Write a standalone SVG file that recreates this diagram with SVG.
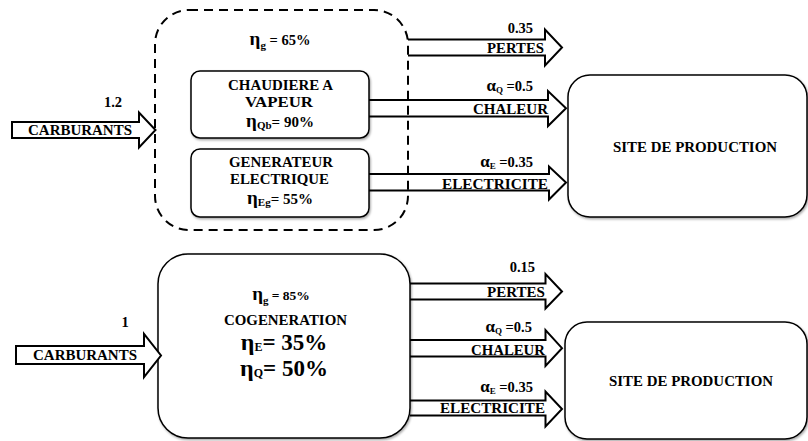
<svg xmlns="http://www.w3.org/2000/svg" width="808" height="441" viewBox="0 0 808 441" font-family="'Liberation Serif', 'DejaVu Serif', 'Times New Roman', serif">
  <defs>
    <filter id="shadow" x="-5%" y="-5%" width="115%" height="115%">
      <feDropShadow dx="1" dy="1.5" stdDeviation="0.8" flood-color="#000" flood-opacity="0.35"/>
    </filter>
  </defs>
  <style>
    text { font-family: "Liberation Serif", "DejaVu Serif", serif; font-weight: bold; fill: #000; }
    .lbl { font-size: 14.5px; }
    .mid { text-anchor: middle; }
    .end { text-anchor: end; }
    .eta { font-size: 19px; }
    .sub { font-size: 11px; }
    .box { fill: #fff; stroke: #000; stroke-width: 1.5; filter: url(#shadow); }
    .dash { fill: none; stroke: #000; stroke-width: 2; stroke-dasharray: 9 6; }
    .flow { fill: none; stroke: #000; stroke-width: 2; stroke-linejoin: miter; }
    .feed { fill: #fff; stroke: #000; stroke-width: 2; stroke-linejoin: miter; }
  </style>

  <rect width="808" height="441" fill="#fff"/>

  <!-- separate production: boiler + generator -->
  <g id="separate-plant">
    <rect class="dash" x="155" y="10" width="253" height="220" rx="34"/>
    <text class="mid" x="280" y="45"><tspan class="eta">η</tspan><tspan class="sub" dy="4">g</tspan><tspan font-size="14.5" dy="-4"> = 65%</tspan></text>
  </g>

  <g id="boiler">
    <rect class="box" x="191" y="71" width="178" height="67" rx="9"/>
    <text class="lbl" x="228" y="90" textLength="105" lengthAdjust="spacingAndGlyphs">CHAUDIERE A</text>
    <text class="lbl" x="245" y="107" textLength="68" lengthAdjust="spacingAndGlyphs">VAPEUR</text>
    <text class="mid" x="280" y="127"><tspan class="eta">η</tspan><tspan class="sub" dy="2">Qb</tspan><tspan font-size="15" dy="-2">= 90%</tspan></text>
  </g>

  <g id="generator">
    <rect class="box" x="191" y="149" width="178" height="68" rx="9"/>
    <text class="lbl" x="229" y="167" textLength="104" lengthAdjust="spacingAndGlyphs">GENERATEUR</text>
    <text class="lbl" x="230" y="184" textLength="99" lengthAdjust="spacingAndGlyphs">ELECTRIQUE</text>
    <text class="mid" x="280" y="204"><tspan class="eta">η</tspan><tspan class="sub" dy="2">Eg</tspan><tspan font-size="15" dy="-2">= 55%</tspan></text>
  </g>

  <g id="site-top">
    <rect class="box" x="568" y="75" width="239" height="142" rx="22"/>
    <text class="lbl" x="613" y="152" textLength="164" lengthAdjust="spacingAndGlyphs">SITE DE PRODUCTION</text>
  </g>

  <!-- cogeneration unit -->
  <g id="cogeneration">
    <rect class="box" x="158" y="254" width="252" height="184" rx="30"/>
    <text class="mid" x="281" y="300"><tspan class="eta">η</tspan><tspan class="sub" dy="4">g</tspan><tspan font-size="13.5" dy="-4"> = 85%</tspan></text>
    <text class="lbl" x="224" y="325" textLength="123" lengthAdjust="spacingAndGlyphs">COGENERATION</text>
    <text class="mid" x="284" y="350"><tspan font-size="24">η</tspan><tspan font-size="12" dy="1">E</tspan><tspan font-size="23" dy="-1">= 35%</tspan></text>
    <text class="mid" x="284" y="376"><tspan font-size="24">η</tspan><tspan font-size="12" dy="1">Q</tspan><tspan font-size="23" dy="-1">= 50%</tspan></text>
  </g>

  <g id="site-bottom">
    <rect class="box" x="565" y="322" width="242" height="117" rx="22"/>
    <text class="lbl" x="609" y="386" textLength="164" lengthAdjust="spacingAndGlyphs">SITE DE PRODUCTION</text>
  </g>

  <!-- flow arrows -->
  <g id="connectors">
    <!-- upper scheme -->
    <path class="feed" d="M12,122 H139 V112.5 L155.5,130 L139,147.5 V138 H12 Z"/>
    <path class="flow" d="M408,39.5 H545 V29.5 L562,47.5 L545,65.5 V55.5 H408"/>
    <path class="flow" d="M369,100 H548 V91 L566,108.2 L548,126 V116.5 H369"/>
    <path class="flow" d="M369,174 H549 V166.5 L566,182.5 L549,199.5 V190.5 H369"/>

    <!-- lower scheme -->
    <path class="feed" d="M16,346 H144 V334 L161,355.5 L144,377 V364 H16 Z"/>
    <path class="flow" d="M410,283.5 H545.5 V274 L562,291.5 L545.5,308.5 V299.5 H410"/>
    <path class="flow" d="M410,340 H545.5 V330 L562,348.2 L545.5,366 V356.5 H410"/>
    <path class="flow" d="M410,400.5 H545.5 V391.5 L562,409 L545.5,426.5 V415.5 H410"/>
  </g>

  <!-- flow labels -->
  <g id="flow-labels">
    <text class="lbl mid" x="113" y="107">1.2</text>
    <text class="lbl" x="28" y="134.5" textLength="104" lengthAdjust="spacingAndGlyphs">CARBURANTS</text>

    <text class="lbl end" x="533" y="33">0.35</text>
    <text class="lbl" x="487" y="53" textLength="57" lengthAdjust="spacingAndGlyphs">PERTES</text>
    <text class="end" x="533" y="90.5"><tspan font-size="17">α</tspan><tspan font-size="9" dy="2">Q</tspan><tspan font-size="14.5" dy="-2"> =0.5</tspan></text>
    <text class="lbl" x="473" y="114" textLength="75" lengthAdjust="spacingAndGlyphs">CHALEUR</text>
    <text class="end" x="533" y="166.5"><tspan font-size="17">α</tspan><tspan font-size="9" dy="2">E</tspan><tspan font-size="14.5" dy="-2"> =0.35</tspan></text>
    <text class="lbl" x="442" y="189" textLength="106" lengthAdjust="spacingAndGlyphs">ELECTRICITE</text>

    <text class="lbl mid" x="125" y="327">1</text>
    <text class="lbl" x="33" y="360" textLength="104" lengthAdjust="spacingAndGlyphs">CARBURANTS</text>

    <text class="lbl end" x="535" y="272">0.15</text>
    <text class="lbl" x="487" y="297" textLength="58" lengthAdjust="spacingAndGlyphs">PERTES</text>
    <text class="end" x="532" y="332"><tspan font-size="17">α</tspan><tspan font-size="9" dy="2">Q</tspan><tspan font-size="14.5" dy="-2"> =0.5</tspan></text>
    <text class="lbl" x="471" y="354.5" textLength="74" lengthAdjust="spacingAndGlyphs">CHALEUR</text>
    <text class="end" x="533" y="392"><tspan font-size="17">α</tspan><tspan font-size="9" dy="2">E</tspan><tspan font-size="14.5" dy="-2"> =0.35</tspan></text>
    <text class="lbl" x="440" y="413" textLength="105" lengthAdjust="spacingAndGlyphs">ELECTRICITE</text>
  </g>
</svg>
